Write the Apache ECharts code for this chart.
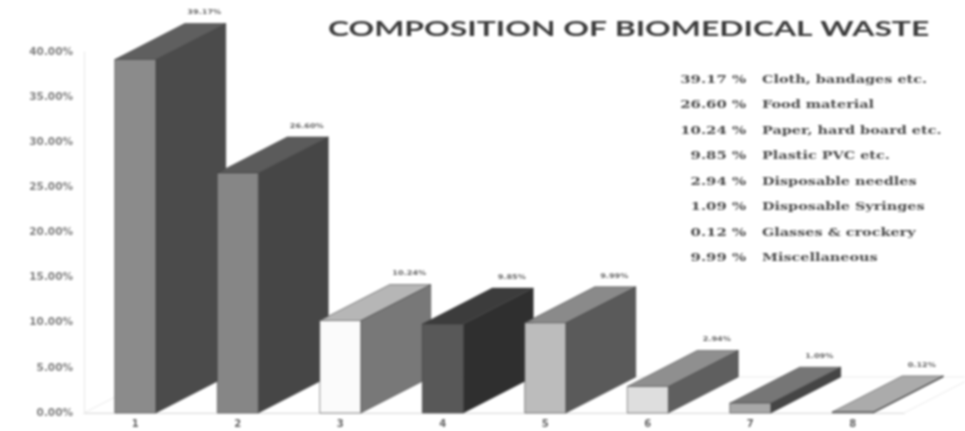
<!DOCTYPE html>
<html>
<head>
<meta charset="utf-8">
<style>
  html, body { margin: 0; padding: 0; background: #fff; }
  #main { width: 965px; height: 431px; filter: blur(1px); }
</style>
<script src="https://cdn.jsdelivr.net/npm/echarts@6/dist/echarts.min.js"></script>
</head>
<body>
<div id="main"></div>
<script>
// chart data
const categories = ['1', '2', '3', '4', '5', '6', '7', '8']
const barValues = [39.17, 26.60, 10.24, 9.85, 9.99, 2.94, 1.09, 0.12]
const barLabels = ['39.17%', '26.60%', '10.24%', '9.85%', '9.99%', '2.94%', '1.09%', '0.12%']
const wastePercents = ['39.17 %', '26.60 %', '10.24 %', '9.85 %', '2.94 %', '1.09 %', '0.12 %', '9.99 %']
const wasteNames = [
  'Cloth, bandages etc.', 'Food material', 'Paper, hard board etc.', 'Plastic PVC etc.',
  'Disposable needles', 'Disposable Syringes', 'Glasses & crockery', 'Miscellaneous'
]
const titleText = 'COMPOSITION OF BIOMEDICAL WASTE'

// grey of each bar: front, side, top
const frontColors = ['#8b8b8b', '#868686', '#fbfbfb', '#585858', '#bcbcbc', '#dedede', '#a8a8a8', '#a8a8a8']
const sideColors = ['#4b4b4b', '#464646', '#787878', '#2f2f2f', '#5a5a5a', '#5f5f5f', '#454545', '#3a3a3a']
const topColors = ['#5f5f5f', '#5b5b5b', '#b6b6b6', '#3c3c3c', '#8a8a8a', '#8f8f8f', '#767676', '#ababab']

const depthX = 70
const depthY = -36

function renderBar(params, api) {
  const i = api.value(0)
  const base = api.coord([i, 0])
  const head = api.coord([i, api.value(1)])
  const w = api.size([1, 0])[0] * 0.4
  const l = base[0] - w / 2
  const r = base[0] + w / 2
  const edge = { stroke: 'rgba(60,60,60,0.65)', lineWidth: 0.8 }
  const face = (points, fill) => ({
    type: 'polygon',
    shape: { points: points },
    style: Object.assign({ fill: fill }, edge)
  })
  return {
    type: 'group',
    children: [
      face([[r, base[1]], [r + depthX, base[1] + depthY], [r + depthX, head[1] + depthY], [r, head[1]]], sideColors[i]),
      face([[l, head[1]], [r, head[1]], [r + depthX, head[1] + depthY], [l + depthX, head[1] + depthY]], topColors[i]),
      face([[l, base[1]], [r, base[1]], [r, head[1]], [l, head[1]]], frontColors[i]),
      {
        type: 'text',
        x: base[0] + depthX - 1,
        y: head[1] + depthY - 11,
        scaleX: 1.25,
        style: {
          text: barLabels[i],
          fill: '#666',
          font: 'bold 6.5px "DejaVu Sans"',
          align: 'center',
          verticalAlign: 'middle'
        }
      }
    ]
  }
}

// faint floor behind the bars
function renderFloor(params) {
  const c = params.coordSys
  const y = c.y + c.height
  const x = c.x
  const xEnd = c.x + c.width
  return {
    type: 'polygon',
    shape: { points: [[x, y], [x + depthX, y + depthY], [xEnd + depthX, y + depthY], [xEnd, y]] },
    style: { fill: 'none', stroke: '#ececec', lineWidth: 1 }
  }
}

const legendRows = []
wasteNames.forEach((name, i) => {
  const y = 80 + i * 25.5
  const font = 'bold 11px "DejaVu Serif"'
  legendRows.push({
    type: 'text', x: 746, y: y, scaleX: 1.35,
    style: { text: wastePercents[i], font: font, fill: '#4a4a4a', align: 'right', verticalAlign: 'middle' }
  })
  legendRows.push({
    type: 'text', x: 762, y: y, scaleX: 1.31,
    style: { text: name, font: font, fill: '#4a4a4a', align: 'left', verticalAlign: 'middle' }
  })
})

const chart = echarts.init(document.getElementById('main'))
chart.setOption({
  animation: false,
  backgroundColor: '#fff',
  grid: { left: 84, right: 61, top: 52, bottom: 18 },
  xAxis: {
    type: 'category',
    data: categories,
    axisLine: { lineStyle: { color: '#cfcfcf' } },
    axisTick: { show: false },
    axisLabel: { color: '#666', fontSize: 10, fontWeight: 'bold', fontFamily: 'DejaVu Sans', margin: 6 }
  },
  yAxis: {
    type: 'value',
    min: 0,
    max: 40,
    interval: 5,
    axisLine: { show: true, lineStyle: { color: '#e8e8e8' } },
    axisTick: { show: false },
    splitLine: { show: false },
    axisLabel: {
      color: '#808080',
      fontSize: 10.5,
      fontWeight: 'bold',
      fontFamily: 'DejaVu Sans',
      margin: 11,
      formatter: (v) => v.toFixed(2) + '%'
    }
  },
  graphic: [
    {
      type: 'text', x: 328, y: 29.5, scaleX: 1.516,
      style: { text: titleText, font: 'bold 21px Lato', fill: '#3c3c3c', align: 'left', verticalAlign: 'middle' }
    }
  ].concat(legendRows),
  series: [
    { type: 'custom', renderItem: renderFloor, data: [0], clip: false, silent: true, z: 1 },
    {
      type: 'custom',
      renderItem: renderBar,
      data: barValues.map((v, i) => [i, v]),
      encode: { x: 0, y: 1 },
      clip: false,
      z: 2
    }
  ]
})
</script>
</body>
</html>
